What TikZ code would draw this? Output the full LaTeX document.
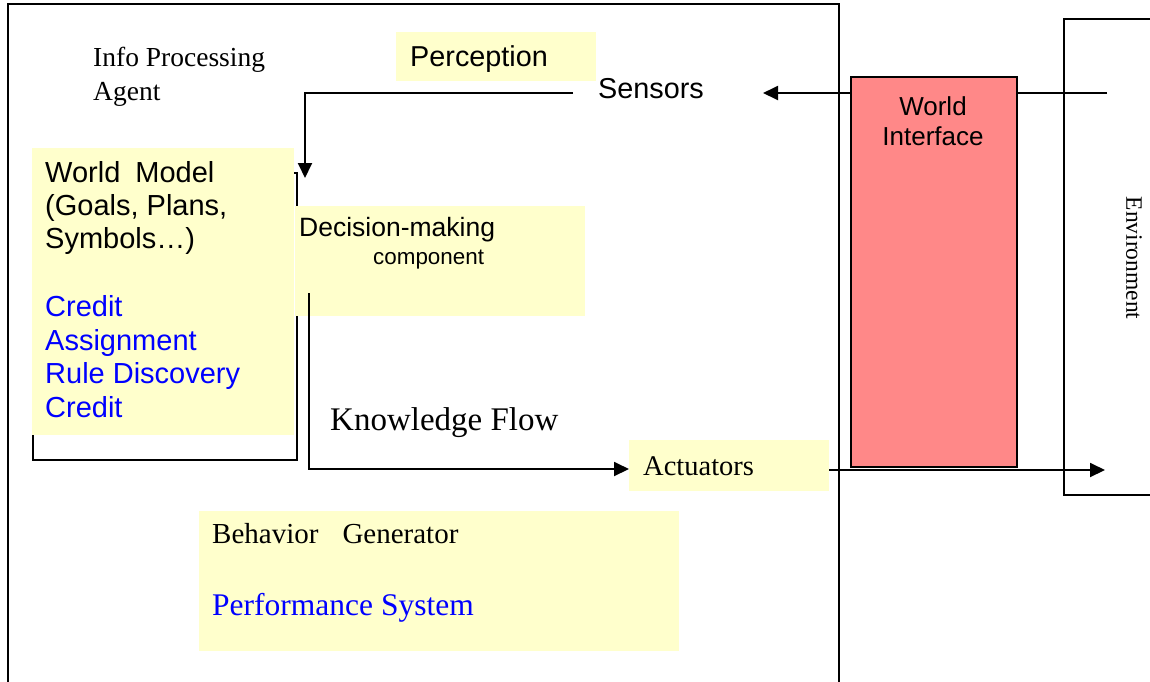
\documentclass[tikz,border=0pt]{standalone}
\usepackage{fontspec}
\usetikzlibrary{arrows.meta}
\newfontfamily\arialf{Liberation Sans}
\newfontfamily\timesf{Liberation Serif}
\definecolor{yfill}{RGB}{255,255,204}
\definecolor{wifill}{RGB}{255,136,136}
\newcommand{\sfsize}[1]{\arialf\fontsize{#1}{#1}\selectfont}
\newcommand{\rmsize}[1]{\timesf\fontsize{#1}{#1}\selectfont}
\begin{document}
\begin{tikzpicture}[x=1pt,y=-1pt,
  line/.style={line width=1.9pt,line join=miter},
  arr/.style={line, -{Triangle[length=15pt,width=14pt]}},
  ybox/.style={fill=yfill,draw=none,inner sep=0pt,anchor=north west},
  lbl/.style={inner sep=0pt,anchor=base west},
]
\useasboundingbox (0,0) rectangle (1150,681);

% agent frame (open at the bottom)
\draw[line] (8,682) -- (8,4) -- (839,4) -- (839,682);
% environment frame (open at the right)
\draw[line] (1151,19) -- (1064,19) -- (1064,495) -- (1151,495);
\node[rotate=-90,inner sep=0pt,font=\rmsize{23.5}] (env) at (1134,258) {Environment};

\node[lbl,font=\rmsize{27.5}] (ipa1) at (93,66) {Info Processing};
\node[lbl,font=\rmsize{27.5}] (ipa2) at (93,100) {Agent};

% perception and sensors
\node[ybox,minimum width=200,minimum height=49] (perc) at (396,32) {};
\node[lbl,font=\sfsize{28.8}] (perctext) at (410,66) {Perception};
\node[lbl,font=\sfsize{28.8}] (sensors) at (598,98) {Sensors};

% incoming signal from the environment
\coordinate (envin) at (1107,93);
\coordinate (sensin) at (763,93);
\draw[arr] (envin) -- (sensin);

% world interface
\node[draw,line width=1.9pt,fill=wifill,inner sep=0pt,anchor=north west,
      minimum width=166,minimum height=390] (wi) at (850,76) {};
\node[inner sep=0pt,anchor=base,font=\sfsize{26}] (wi1) at (933,115) {World};
\node[inner sep=0pt,anchor=base,font=\sfsize{26}] (wi2) at (933,145) {Interface};

% world model: outline behind, yellow panel on top
\node[draw,line width=1.9pt,inner sep=0pt,anchor=north west,
      minimum width=264,minimum height=287] (wmframe) at (32,172) {};
\node[ybox,minimum width=262,minimum height=287] (wm) at (32,148) {};
\node[lbl,font=\sfsize{29}] (wmt1) at (45,182) {World\hspace{7pt} Model};
\node[lbl,font=\sfsize{29}] (wmt2) at (45,215) {(Goals, Plans,};
\node[lbl,font=\sfsize{29}] (wmt3) at (45,248) {Symbols…)};
\node[lbl,font=\sfsize{29},text=blue] (wmt4) at (45,316) {Credit};
\node[lbl,font=\sfsize{29},text=blue] (wmt5) at (45,350) {Assignment};
\node[lbl,font=\sfsize{29},text=blue] (wmt6) at (45,383) {Rule Discovery};
\node[lbl,font=\sfsize{29},text=blue] (wmt7) at (45,417) {Credit};

% perception feeds the world model
\coordinate (sensout) at (573,93);
\coordinate (wmin) at (305,178);
\draw[arr] (sensout) -- (305,93) -- (wmin);

% decision-making component
\node[ybox,minimum width=290,minimum height=110] (dm) at (295,206) {};
\node[lbl,font=\sfsize{26.5}] (dmt1) at (299,236) {Decision-making};
\node[lbl,font=\sfsize{22.4}] (dmt2) at (373,264) {component};

% knowledge flow to the actuators
\node[ybox,minimum width=200,minimum height=51] (act) at (629,440) {};
\node[lbl,font=\rmsize{28.5}] (acttext) at (643,475) {Actuators};
\coordinate (kfstart) at (309,293);
\draw[arr] (kfstart) -- (309,469) -- (act.west |- 0,469);
\node[lbl,font=\rmsize{33}] (kf) at (330,430) {Knowledge Flow};

% actuators act on the environment
\coordinate (envout) at (1105,470);
\draw[arr] (act.east |- 0,470) -- (envout);

% behavior generator
\node[ybox,minimum width=480,minimum height=140] (bg) at (199,511) {};
\node[lbl,font=\rmsize{29}] (bgt1) at (212,543) {Behavior\hspace{24pt}Generator};
\node[lbl,font=\rmsize{31.5},text=blue] (bgt2) at (212,615) {Performance System};
\end{tikzpicture}
\end{document}
